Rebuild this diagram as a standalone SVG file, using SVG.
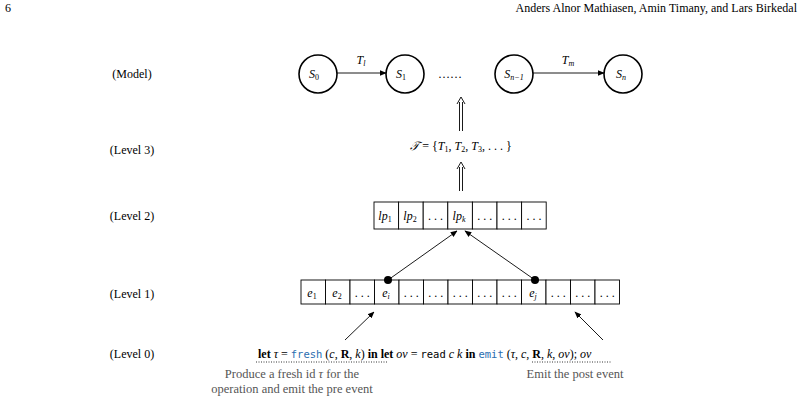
<svg xmlns="http://www.w3.org/2000/svg" width="801" height="408" viewBox="0 0 801 408">
<style>
text{font-family:"Liberation Serif",serif;font-size:12px;fill:#000}
.i{font-style:italic}
.m{font-family:"DejaVu Sans Mono",monospace;font-size:10.5px}
.b{fill:#2a6eb0}
.g{fill:#555;font-size:12.5px}
.st{fill:#fff;stroke:#000;stroke-width:1.6}
.cell{fill:#fff;stroke:#000;stroke-width:0.9}
.ln{stroke:#000;stroke-width:0.9;fill:none}
sub{font-size:8px}
</style>
<defs>
<marker id="ah" viewBox="0 0 10 10" refX="9" refY="5" markerWidth="7" markerHeight="7" markerUnits="userSpaceOnUse" orient="auto"><path d="M0,1 L10,5 L0,9 Z" fill="#000"/></marker>
</defs>
<text x="5" y="12">6</text>
<text x="797" y="12" text-anchor="end">Anders Alnor Mathiasen, Amin Timany, and Lars Birkedal</text>
<g id="labels">
<text x="132" y="78" text-anchor="middle">(Model)</text>
<text x="132" y="154" text-anchor="middle">(Level 3)</text>
<text x="132" y="220" text-anchor="middle">(Level 2)</text>
<text x="132" y="298" text-anchor="middle">(Level 1)</text>
<text x="132" y="358" text-anchor="middle">(Level 0)</text>
</g>
<g id="model">
<g id="s0"><circle class="st" cx="318" cy="74" r="19"/><text class="i" x="314" y="78" text-anchor="middle">S<tspan font-size="8" font-style="normal" dy="2">0</tspan></text></g>
<g id="s1"><circle class="st" cx="405" cy="74" r="19"/><text class="i" x="401" y="78" text-anchor="middle">S<tspan font-size="8" font-style="normal" dy="2">1</tspan></text></g>
<text x="450" y="78" text-anchor="middle">……</text>
<g id="sn1"><circle class="st" cx="514" cy="74" r="19"/><text class="i" x="514" y="78" text-anchor="middle">S<tspan font-size="8" dy="2">n−1</tspan></text></g>
<g id="sn"><circle class="st" cx="623" cy="74" r="19"/><text class="i" x="621" y="78" text-anchor="middle">S<tspan font-size="8" dy="2">n</tspan></text></g>
</g>
<g id="level3"><text class="i" x="461" y="150" text-anchor="middle">𝒯 <tspan font-style="normal">= {</tspan>T<tspan font-size="8" font-style="normal" dy="2">1</tspan><tspan dy="-2" font-style="normal">, </tspan>T<tspan font-size="8" font-style="normal" dy="2">2</tspan><tspan dy="-2" font-style="normal">, </tspan>T<tspan font-size="8" font-style="normal" dy="2">3</tspan><tspan dy="-2" font-style="normal">, . . . }</tspan></text></g>
<g id="level2">
<rect class="cell" x="374" y="202" width="24.6" height="27"/><rect class="cell" x="398.6" y="202" width="24.6" height="27"/><rect class="cell" x="423.2" y="202" width="24.6" height="27"/><rect class="cell" x="447.8" y="202" width="24.6" height="27"/><rect class="cell" x="472.4" y="202" width="24.6" height="27"/><rect class="cell" x="497" y="202" width="24.6" height="27"/><rect class="cell" x="521.6" y="202" width="24.6" height="27"/>
<text class="i" x="385" y="220" text-anchor="middle">lp<tspan font-size="8" font-style="normal" dy="2">1</tspan></text>
<text class="i" x="410" y="220" text-anchor="middle">lp<tspan font-size="8" font-style="normal" dy="2">2</tspan></text>
<text x="435.5" y="220" text-anchor="middle">. . .</text>
<text class="i" x="459" y="220" text-anchor="middle">lp<tspan font-size="8" dy="2">k</tspan></text>
<text x="484.7" y="220" text-anchor="middle">. . .</text><text x="509.3" y="220" text-anchor="middle">. . .</text><text x="533.9" y="220" text-anchor="middle">. . .</text>
</g>
<g id="level1">
<rect class="cell" x="301" y="280" width="24.5" height="24"/><rect class="cell" x="325.5" y="280" width="24.5" height="24"/><rect class="cell" x="350" y="280" width="24.5" height="24"/><rect class="cell" x="374.5" y="280" width="24.5" height="24"/><rect class="cell" x="399" y="280" width="24.5" height="24"/><rect class="cell" x="423.5" y="280" width="24.5" height="24"/><rect class="cell" x="448" y="280" width="24.5" height="24"/><rect class="cell" x="472.5" y="280" width="24.5" height="24"/><rect class="cell" x="497" y="280" width="24.5" height="24"/><rect class="cell" x="521.5" y="280" width="24.5" height="24"/><rect class="cell" x="546" y="280" width="24.5" height="24"/><rect class="cell" x="570.5" y="280" width="24.5" height="24"/><rect class="cell" x="595" y="280" width="24.5" height="24"/>
<text class="i" x="312" y="297" text-anchor="middle">e<tspan font-size="8" font-style="normal" dy="2">1</tspan></text>
<text class="i" x="337" y="297" text-anchor="middle">e<tspan font-size="8" font-style="normal" dy="2">2</tspan></text>
<text x="362.2" y="297" text-anchor="middle">. . .</text>
<text class="i" x="386" y="297" text-anchor="middle">e<tspan font-size="8" dy="2">i</tspan></text>
<text x="411.2" y="297" text-anchor="middle">. . .</text><text x="435.7" y="297" text-anchor="middle">. . .</text><text x="460.2" y="297" text-anchor="middle">. . .</text><text x="484.7" y="297" text-anchor="middle">. . .</text><text x="509.2" y="297" text-anchor="middle">. . .</text>
<text class="i" x="533" y="297" text-anchor="middle">e<tspan font-size="8" dy="2">j</tspan></text>
<text x="558.2" y="297" text-anchor="middle">. . .</text><text x="582.7" y="297" text-anchor="middle">. . .</text><text x="607.2" y="297" text-anchor="middle">. . .</text>
<circle cx="388" cy="280" r="4"/><circle cx="535" cy="280" r="4"/>
</g>
<g id="level0">
<text x="258" y="358"><tspan font-weight="bold">let</tspan> <tspan class="i">τ</tspan> = <tspan class="m b">fresh</tspan> (<tspan class="i">c</tspan>, <tspan font-weight="bold">R</tspan>, <tspan class="i">k</tspan>) <tspan font-weight="bold">in let</tspan> <tspan class="i">ov</tspan> = <tspan class="m">read</tspan> <tspan class="i">c k</tspan> <tspan font-weight="bold">in</tspan> <tspan class="m b">emit</tspan> (<tspan class="i">τ</tspan>, <tspan class="i">c</tspan>, <tspan font-weight="bold">R</tspan>, <tspan class="i">k</tspan>, <tspan class="i">ov</tspan>); <tspan class="i">ov</tspan></text>
<line x1="256" y1="362" x2="388" y2="362" stroke="#000" stroke-width="0.8" stroke-dasharray="1,1.5"/>
<line x1="532" y1="362" x2="612" y2="362" stroke="#000" stroke-width="0.8" stroke-dasharray="1,1.5"/>
<text class="g" x="292" y="378" text-anchor="middle">Produce a fresh id <tspan font-style="italic">τ</tspan> for the</text>
<text class="g" x="292" y="393" text-anchor="middle">operation and emit the pre event</text>
<text class="g" x="575" y="378" text-anchor="middle">Emit the post event</text>
</g>
<g id="connectors" class="ln">
<line x1="337" y1="73" x2="386" y2="73" marker-end="url(#ah)"/>
<line x1="533" y1="73" x2="604" y2="73" marker-end="url(#ah)"/>
<text x="361" y="64" class="i" text-anchor="middle" stroke="none">T<tspan font-size="8" dy="2">l</tspan></text>
<text x="568" y="64" class="i" text-anchor="middle" stroke="none">T<tspan font-size="8" dy="2">m</tspan></text>
<path d="M459.5,131 V102 M462.5,131 V102 M457,104 L461,97 L465,104"/>
<path d="M459.5,191 V167 M462.5,191 V167 M457,169 L461,162 L465,169"/>
<line x1="388" y1="280" x2="457" y2="231" marker-end="url(#ah)"/>
<line x1="535" y1="280" x2="465" y2="231" marker-end="url(#ah)"/>
<line x1="345" y1="340" x2="374" y2="312" marker-end="url(#ah)"/>
<line x1="603" y1="340" x2="575" y2="312" marker-end="url(#ah)"/>
</g>
</svg>
